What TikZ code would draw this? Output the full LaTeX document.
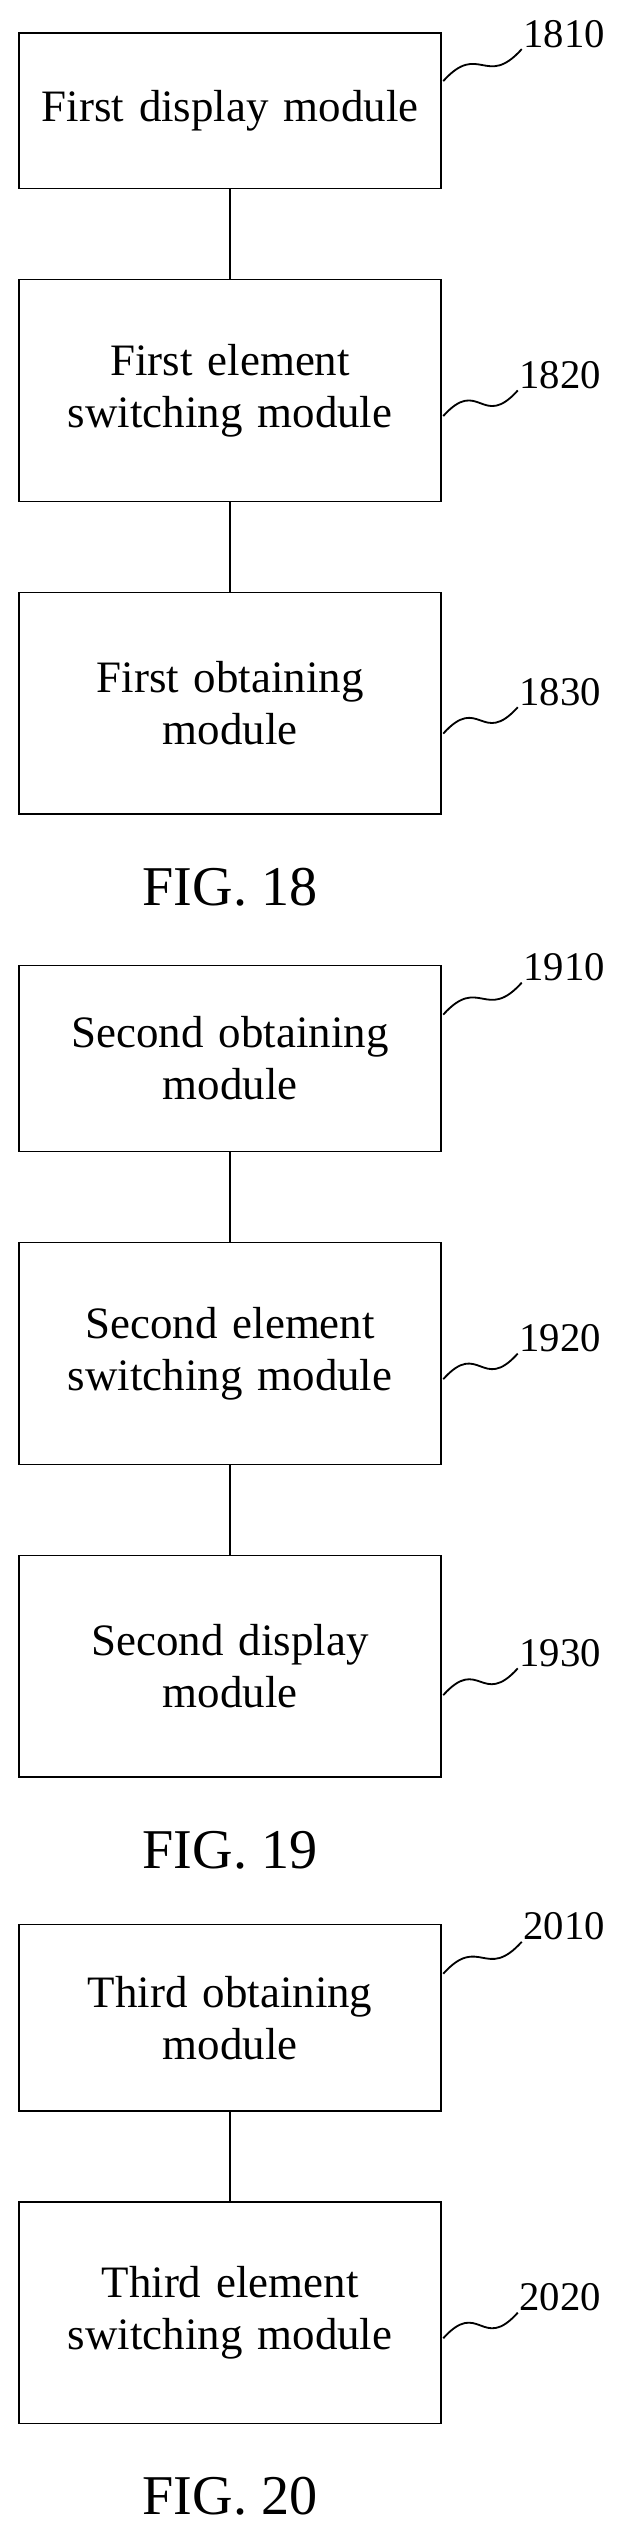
\documentclass[tikz,border=0pt]{standalone}
\usepackage{fontspec}
\setmainfont{Liberation Serif}
\usetikzlibrary{positioning}
\tikzstyle{module} = [rectangle, minimum width=10.56cm, text width=10.3cm, align=center, draw=black, line width=1.1pt, font=\fontsize{32}{37}\selectfont]
\tikzstyle{tag} = [anchor=south west, inner sep=1pt, font=\fontsize{29}{32}\selectfont]
\tikzstyle{fig} = [anchor=center, font=\fontsize{40}{44}\selectfont]
\tikzstyle{link} = [line width=1.3pt]
\tikzstyle{wave} = [line width=1.3pt]

\begin{document}
\begin{tikzpicture}
\useasboundingbox (0,0) rectangle (16,-63.5);

% FIG. 18
\node (b1810) [module, minimum height=3.9cm, anchor=north] at (5.76,-0.8) {First display module};
\node (b1820) [module, minimum height=5.55cm, below=2.24cm of b1810] {First element\\switching module};
\node (b1830) [module, minimum height=5.55cm, below=2.24cm of b1820] {First obtaining\\module};
\node (fig18) [fig, below=1.8cm of b1830.south, anchor=center] {FIG. 18};
\draw [link] (b1810) -- (b1820);
\draw [link] (b1820) -- (b1830);

\node (l1810) [tag] at ([xshift=2.0cm, yshift=1.54cm]b1810.east) {1810};
\node (l1820) [tag] at ([xshift=1.9cm, yshift=0.0cm]b1820.east) {1820};
\node (l1830) [tag] at ([xshift=1.9cm, yshift=-0.1cm]b1830.east) {1830};
\draw [wave] ([xshift=1pt, yshift=0.74cm]b1810.east) .. controls +(0.9,1.0) and +(-0.9,-1.0) .. (l1810.south west);
\draw [wave] ([xshift=1pt, yshift=-0.64cm]b1820.east) .. controls +(0.9,1.0) and +(-0.9,-1.0) .. (l1820.south west);
\draw [wave] ([xshift=1pt, yshift=-0.76cm]b1830.east) .. controls +(0.9,1.0) and +(-0.9,-1.0) .. (l1830.south west);

% FIG. 19
\node (b1910) [module, minimum height=4.66cm, below=1.95cm of fig18.center] {Second obtaining\\module};
\node (b1920) [module, minimum height=5.55cm, below=2.24cm of b1910] {Second element\\switching module};
\node (b1930) [module, minimum height=5.55cm, below=2.24cm of b1920] {Second display\\module};
\node (fig19) [fig, below=1.8cm of b1930.south, anchor=center] {FIG. 19};
\draw [link] (b1910) -- (b1920);
\draw [link] (b1920) -- (b1930);

\node (l1910) [tag] at ([xshift=2.0cm, yshift=1.9cm]b1910.east) {1910};
\node (l1920) [tag] at ([xshift=1.9cm, yshift=0.0cm]b1920.east) {1920};
\node (l1930) [tag] at ([xshift=1.9cm, yshift=-0.05cm]b1930.east) {1930};
\draw [wave] ([xshift=1pt, yshift=1.1cm]b1910.east) .. controls +(0.9,1.0) and +(-0.9,-1.0) .. (l1910.south west);
\draw [wave] ([xshift=1pt, yshift=-0.64cm]b1920.east) .. controls +(0.9,1.0) and +(-0.9,-1.0) .. (l1920.south west);
\draw [wave] ([xshift=1pt, yshift=-0.72cm]b1930.east) .. controls +(0.9,1.0) and +(-0.9,-1.0) .. (l1930.south west);

% FIG. 20
\node (b2010) [module, minimum height=4.66cm, below=1.85cm of fig19.center] {Third obtaining\\module};
\node (b2020) [module, minimum height=5.55cm, below=2.24cm of b2010] {Third element\\switching module};
\node (fig20) [fig, below=1.8cm of b2020.south, anchor=center] {FIG. 20};
\draw [link] (b2010) -- (b2020);

\node (l2010) [tag] at ([xshift=2.0cm, yshift=1.9cm]b2010.east) {2010};
\node (l2020) [tag] at ([xshift=1.9cm, yshift=0.0cm]b2020.east) {2020};
\draw [wave] ([xshift=1pt, yshift=1.1cm]b2010.east) .. controls +(0.9,1.0) and +(-0.9,-1.0) .. (l2010.south west);
\draw [wave] ([xshift=1pt, yshift=-0.64cm]b2020.east) .. controls +(0.9,1.0) and +(-0.9,-1.0) .. (l2020.south west);

\end{tikzpicture}
\end{document}
